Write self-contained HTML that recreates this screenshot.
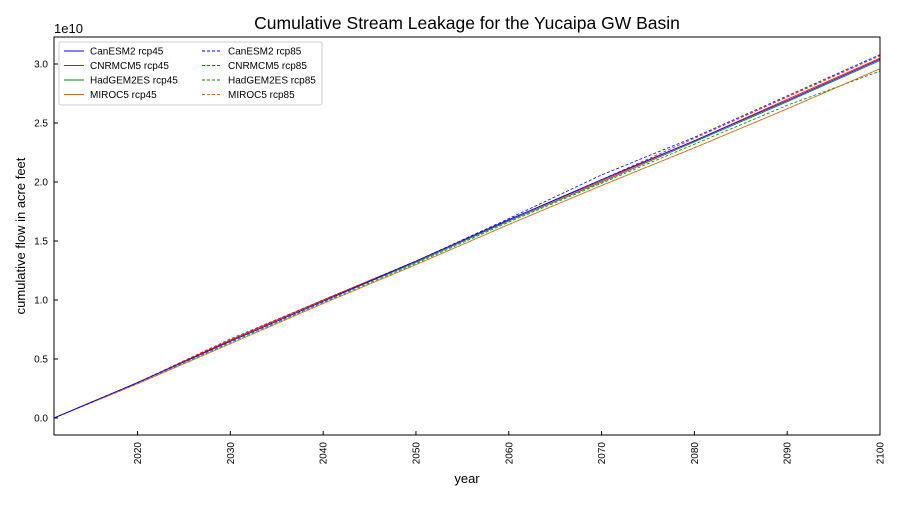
<!DOCTYPE html>
<html><head><meta charset="utf-8"><style>
body{margin:0;background:#fff;font-family:"Liberation Sans",sans-serif}
svg text{font-family:"Liberation Sans","DejaVu Sans",sans-serif}
</style></head><body>
<svg id="c" width="900" height="500">
<rect width="900" height="500" fill="#fff"/>
<text x="467" y="29" font-size="17.5" text-anchor="middle">Cumulative Stream Leakage for the Yucaipa GW Basin</text>
<text x="54" y="33" font-size="13">1e10</text>
<text x="467" y="483" font-size="13" text-anchor="middle">year</text>
<text transform="translate(25,236) rotate(-90)" font-size="13" text-anchor="middle">cumulative flow in acre feet</text>
<g id="ax"></g><g id="marks"></g><g id="leg"></g>
<rect x="54" y="37" width="826" height="398" fill="none" stroke="#000" stroke-width="1"/>
</svg>
<script>
const years=[2011,2020,2030,2040,2050,2060,2070,2080,2090,2100];
const names=["CanESM2 rcp45","CNRMCM5 rcp45","HadGEM2ES rcp45","MIROC5 rcp45","CanESM2 rcp85","CNRMCM5 rcp85","HadGEM2ES rcp85","MIROC5 rcp85"];
const s0=[0,0.30,0.65,0.99,1.33,1.68,2.02,2.35,2.69,3.04];
const s1=[0,0.30,0.66,1.00,1.33,1.68,2.01,2.35,2.70,3.05];
const s2=[0,0.30,0.65,0.99,1.32,1.67,2.00,2.34,2.68,3.03];
const s3=[0,0.29,0.63,0.97,1.30,1.64,1.97,2.29,2.62,2.96];
const s4=[0,0.30,0.66,1.00,1.33,1.69,2.06,2.38,2.73,3.08];
const s5=[0,0.30,0.67,1.00,1.33,1.68,2.02,2.37,2.72,3.07];
const s6=[0,0.29,0.64,0.98,1.31,1.66,1.99,2.32,2.65,2.94];
const s7=[0,0.29,0.63,0.97,1.30,1.64,1.97,2.29,2.62,2.96];
const xTicks=[2020,2030,2040,2050,2060,2070,2080,2090,2100];
const yTicks=[0,0.5,1.0,1.5,2.0,2.5,3.0];
const series=[s0,s1,s2,s3,s4,s5,s6,s7];
const colors=["#0000ff","#ff0000","#008000","#d2691e"];
const NS="http://www.w3.org/2000/svg";
const X=y=>54+(y-2011)*(826/89);
const Y=v=>418-v*118;
function mk(t,a,p){const e=document.createElementNS(NS,t);for(const k in a)e.setAttribute(k,a[k]);p.appendChild(e);return e;}
const ax=document.getElementById('ax');
xTicks.forEach(t=>{const x=X(t);
 const l=mk('line',{x1:x,x2:x,y1:435,y2:431,stroke:'#000'},ax);
 
 
 const tx=mk('text',{transform:`translate(${x+3.5},442) rotate(-90)`,'font-size':10,'text-anchor':'end'},ax);tx.textContent=t;
 
 });
yTicks.forEach(t=>{const y=Y(t);
 const l=mk('line',{x1:54,x2:58,y1:y,y2:y,stroke:'#000'},ax);
 
 
 const tx=mk('text',{x:48,y:y+3.5,'font-size':10,'text-anchor':'end'},ax);tx.textContent=t.toFixed(1);
 
 });
const mg=document.getElementById('marks');
[7,6,5,4,3,2,1,0].forEach(i=>{
 const d=series[i].map((v,j)=>(j?'L':'M')+X(years[j]).toFixed(1)+','+Y(v).toFixed(1)).join('');
 const p=mk('path',{d,fill:'none',stroke:colors[i%4],'stroke-width':0.8,'stroke-dasharray':i>=4?'3,2':'none'},mg);
 
 
});
const lg=document.getElementById('leg');
const box=mk('rect',{x:59,y:42,width:263,height:63,fill:'#fff',stroke:'#ccc',rx:2},lg);


names.forEach((n,i)=>{const col=i<4?0:1,row=i%4;const x=64+col*138,y=51+row*14.5;
 mk('line',{x1:x,x2:x+20,y1:y,y2:y,stroke:colors[i%4],'stroke-width':0.9,'stroke-dasharray':i>=4?'3,2':'none'},lg);
 const t=mk('text',{x:x+26,y:y+3.5,'font-size':10},lg);t.textContent=n;
 
 });
</script>
</body></html>
